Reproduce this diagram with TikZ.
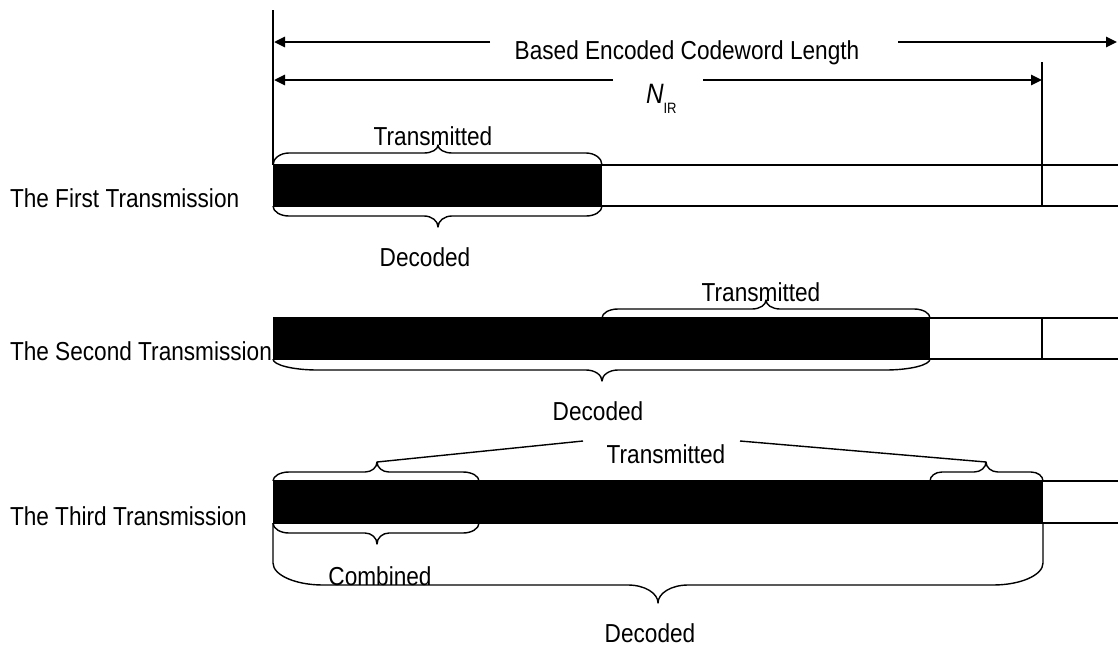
\documentclass[tikz,border=0pt]{standalone}
\usepackage{fontspec}
\setmainfont{Liberation Sans}
\newfontfamily\labfont[FakeStretch=0.87]{Liberation Sans}
\usetikzlibrary{arrows.meta}
% brace: x1 x2 xm y0 ya y1 y2 b rt
\newcommand\mybrace[9]{%
  \draw[braceline] (#1,#4) -- (#1,#5)
    .. controls (#1,{#5+0.552*(#6-#5)}) and ({#1+0.448*#8},#6) .. ({#1+#8},#6)
    -- ({#3-#9},#6)
    .. controls ({#3-0.448*#9},#6) and (#3,{#6+0.448*(#7-#6)}) .. (#3,#7)
    .. controls (#3,{#6+0.448*(#7-#6)}) and ({#3+0.448*#9},#6) .. ({#3+#9},#6)
    -- ({#2-#8},#6)
    .. controls ({#2-0.448*#8},#6) and (#2,{#5+0.552*(#6-#5)}) .. (#2,#5)
    -- (#2,#4);}
\begin{document}
\begin{tikzpicture}[x=1pt,y=-1pt,
  lab/.style={inner sep=0pt,outer sep=0pt,font=\labfont\fontsize{26}{30}\selectfont},
  braceline/.style={line width=1.4pt,line join=round},
  barline/.style={line width=1.4pt},
  dimarrow/.style={line width=2.6pt,-{Triangle[length=11pt,width=10pt]}},
  guide/.style={line width=1.6pt}]
\useasboundingbox (0,0) rectangle (1118,648);
% ---- dimension lines on top
\draw[guide] (273,10) -- (273,165);
\draw[guide] (1042,62) -- (1042,165);
\node[lab,anchor=base] (title) at (687,59) {Based Encoded Codeword Length};
\node[lab,anchor=base west] (nir) at (646,103) {{\fontsize{28}{28}\selectfont\itshape N}\raisebox{-10pt}{\fontsize{15}{15}\selectfont IR}};
\coordinate (a1s) at (490,42); \coordinate (a1e) at (274,42);
\coordinate (a2s) at (898,42); \coordinate (a2e) at (1117,42);
\coordinate (b1s) at (613,80); \coordinate (b1e) at (274,80);
\coordinate (b2s) at (703,80); \coordinate (b2e) at (1042,80);
\draw[dimarrow] (a1s) -- (a1e);
\draw[dimarrow] (a2s) -- (a2e);
\draw[dimarrow] (b1s) -- (b1e);
\draw[dimarrow] (b2s) -- (b2e);
% ---- first transmission
\fill (273,165) rectangle (602,206);
\draw[barline] (273,165) -- (1118,165);
\draw[barline] (273,206) -- (1118,206);
\draw[guide] (1042,165) -- (1042,206);
\mybrace{273}{602}{438}{165}{165}{153}{145}{16}{14}
\mybrace{273}{602}{438}{206}{206}{216}{227}{16}{14}
\node[lab,anchor=base] (tr1) at (433,145) {Transmitted};
\node[lab,anchor=base] (de1) at (425,266) {Decoded};
\node[lab,anchor=base west] (first) at (10,207) {The First Transmission};
% ---- second transmission
\fill (273,318) rectangle (930,359);
\draw[barline] (273,318) -- (1118,318);
\draw[barline] (273,359) -- (1118,359);
\draw[guide] (1042,318) -- (1042,359);
\mybrace{602}{930}{766}{318}{318}{309}{300}{16}{14}
\mybrace{273}{930}{602}{359}{359}{370}{381}{45}{16}
\node[lab,anchor=base] (tr2) at (761,301) {Transmitted};
\node[lab,anchor=base] (de2) at (598,420) {Decoded};
\node[lab,anchor=base west] (second) at (10,360) {The Second Transmission};
% ---- third transmission
\fill (273,481) rectangle (1043,523);
\draw[barline] (273,481) -- (1118,481);
\draw[barline] (273,523) -- (1118,523);
\mybrace{273}{479}{377}{481}{481}{472}{462}{16}{12}
\mybrace{930}{1043}{986}{481}{481}{472}{462}{12}{12}
\mybrace{273}{479}{377}{523}{523}{533}{544}{16}{12}
\mybrace{273}{1043}{658}{523}{563}{585}{603}{50}{30}
\node[lab,anchor=base] (tr3) at (666,463) {Transmitted};
\node[lab,anchor=base] (comb) at (380,585) {Combined};
\node[lab,anchor=base] (de3) at (650,642) {Decoded};
\node[lab,anchor=base west] (third) at (10,525) {The Third Transmission};
\coordinate (tipL) at (377,462); \coordinate (lnL) at (583,441);
\coordinate (tipR) at (986,462); \coordinate (lnR) at (740,441);
\draw[braceline] (tipL) -- (lnL);
\draw[braceline] (lnR) -- (tipR);
\end{tikzpicture}
\end{document}
